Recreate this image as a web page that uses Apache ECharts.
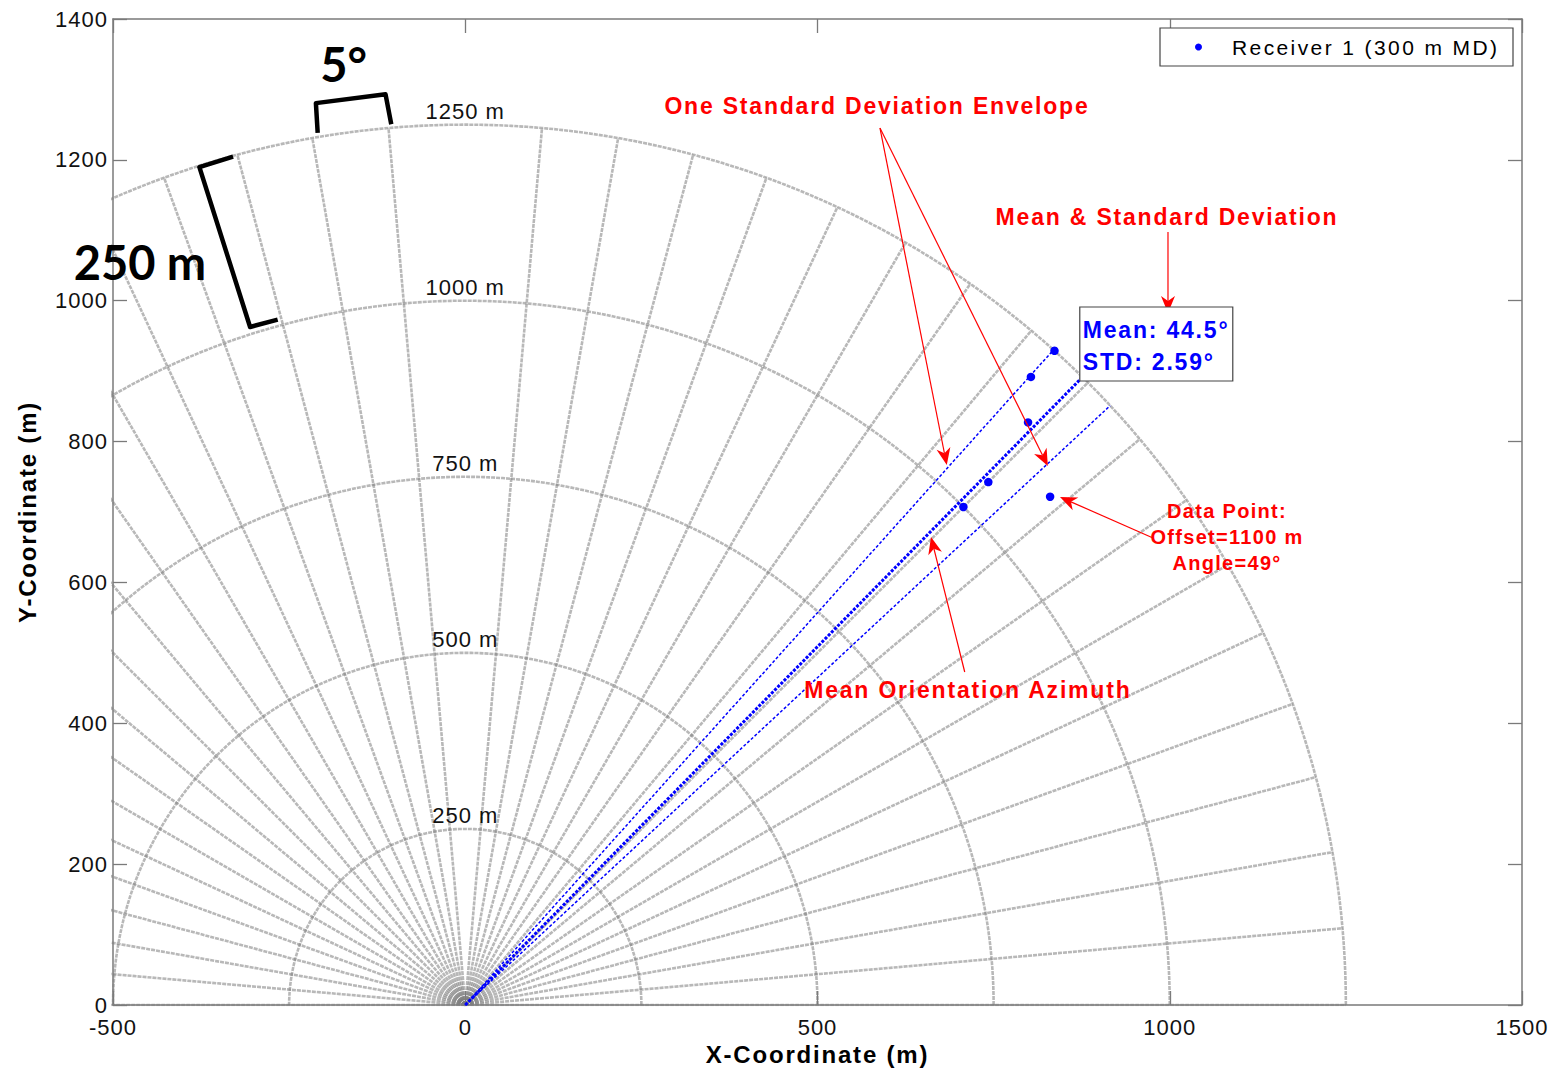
<!DOCTYPE html>
<html>
<head>
<meta charset="utf-8">
<script src="https://cdn.jsdelivr.net/npm/echarts@6/dist/echarts.min.js"></script>
<style>
  html, body { margin: 0; padding: 0; background: #fff; }
  #chart { width: 1563px; height: 1071px; }
  /* per-class tracking for the Helvetica-style labels */
  #chart text[style*="tk1"] { letter-spacing: 1px; }
  #chart text[style*="lg2"] { letter-spacing: 2.4px; }
  #chart text[style*="bd3"] { letter-spacing: 1.8px; }
  #chart text[style*="sb4"] { letter-spacing: 1.3px; }
</style>
</head>
<body>
<div id="chart"></div>
<script>
// Receiver 1 picks: source-receiver offset (m) and azimuth (deg, clockwise from north)
const receiverName = 'Receiver 1 (300 m MD)';
const offsets = [1250, 1200, 1150, 1050, 1000, 1100];
const azimuths = [42, 42, 44, 45, 45, 49];

// axes and polar grid
const xTicks = [-500, 0, 500, 1000, 1500];
const yTicks = [0, 200, 400, 600, 800, 1000, 1200, 1400];
const ringRadii = [250, 500, 750, 1000, 1250];
const ringLabels = ['250 m', '500 m', '750 m', '1000 m', '1250 m'];
const spokeStepDeg = 5;

const F_TICK = "'Liberation Sans', tk1";
const F_LEG = "'Liberation Sans', lg2";
const F_BOLD = "'Liberation Sans', bd3";
const F_SB = "'Liberation Sans', sb4";
const RED = '#ff0000';
const BLUE = '#0000ff';

// azimuth statistics
const n = azimuths.length;
const meanAz = azimuths.reduce((a, b) => a + b, 0) / n;
const stdAz = Math.sqrt(azimuths.reduce((s, a) => s + (a - meanAz) * (a - meanAz), 0) / (n - 1));
const outerR = ringRadii[ringRadii.length - 1];

function toXY(r, az) {
  const t = az * Math.PI / 180;
  return [r * Math.sin(t), r * Math.cos(t)];
}

const series = [];
const gridStyle = { color: 'rgba(125,125,125,0.55)', width: 2.6, type: [4, 1] };

// range rings
ringRadii.forEach(r => {
  const pts = [];
  for (let d = 0; d <= 180; d += 1) {
    const t = d * Math.PI / 180;
    pts.push([r * Math.cos(t), r * Math.sin(t)]);
  }
  series.push({ type: 'line', data: pts, symbol: 'none', silent: true, z: 1,
    lineStyle: gridStyle, animation: false });
});
// spokes
for (let d = 0; d <= 180; d += spokeStepDeg) {
  if (d === 90) continue;
  const t = d * Math.PI / 180;
  series.push({ type: 'line', data: [[0, 0], [outerR * Math.cos(t), outerR * Math.sin(t)]],
    symbol: 'none', silent: true, z: 1, lineStyle: gridStyle, animation: false });
}
// mean azimuth and one-sigma envelope
[[meanAz - stdAz, 1.5, [3, 2]], [meanAz, 3, [3, 1.5]], [meanAz + stdAz, 1.5, [3, 2]]].forEach(([az, w, dash]) => {
  series.push({ type: 'line', data: [[0, 0], toXY(outerR, az)], symbol: 'none', silent: true, z: 3,
    lineStyle: { color: BLUE, width: w, type: dash }, animation: false });
});
// picks
series.push({
  name: receiverName, type: 'scatter', z: 5,
  data: offsets.map((r, i) => toXY(r, azimuths[i])),
  symbol: 'circle', symbolSize: 8.5, itemStyle: { color: BLUE, opacity: 1 }
});

const axisLine = { show: true, onZero: false, lineStyle: { color: '#7a7a7a', width: 1.5 } };
const axisTick = { show: true, inside: true, length: 14, lineStyle: { color: '#7a7a7a', width: 1.3 } };
const plain = v => String(v);

const option = {
  animation: false,
  backgroundColor: '#fff',
  grid: { left: 113, right: 41, top: 19, bottom: 66, containLabel: false, outerBoundsMode: 'none' },
  legend: {
    data: [receiverName], left: 1160, top: 28, orient: 'horizontal',
    padding: [8, 10, 8, 35], backgroundColor: '#fff', borderColor: '#444', borderWidth: 1.2, borderRadius: 0,
    icon: 'circle', itemWidth: 7, itemHeight: 7, selectedMode: false,
    itemStyle: { opacity: 1 },
    textStyle: { fontFamily: F_LEG, fontSize: 21, lineHeight: 22, color: '#000', width: 271, padding: [0, 0, 0, 25] }
  },
  xAxis: [
    { type: 'value', min: xTicks[0], max: xTicks[xTicks.length - 1], interval: xTicks[1] - xTicks[0], position: 'bottom',
      name: 'X-Coordinate (m)', nameLocation: 'middle', nameGap: 30,
      nameTextStyle: { fontFamily: F_BOLD, fontWeight: 'bold', fontSize: 24, color: '#000' },
      axisLine, axisTick, splitLine: { show: false },
      axisLabel: { margin: 11, fontFamily: F_TICK, fontSize: 22, color: '#111', formatter: plain } },
    { type: 'value', min: xTicks[0], max: xTicks[xTicks.length - 1], interval: xTicks[1] - xTicks[0], position: 'top',
      axisLine, axisTick, splitLine: { show: false }, axisLabel: { show: false } }
  ],
  yAxis: [
    { type: 'value', min: yTicks[0], max: yTicks[yTicks.length - 1], interval: yTicks[1] - yTicks[0], position: 'left',
      name: 'Y-Coordinate (m)', nameLocation: 'middle', nameGap: 74,
      nameTextStyle: { fontFamily: F_BOLD, fontWeight: 'bold', fontSize: 24, color: '#000' },
      axisLine, axisTick, splitLine: { show: false },
      axisLabel: { margin: 5, fontFamily: F_TICK, fontSize: 22, color: '#111', formatter: plain } },
    { type: 'value', min: yTicks[0], max: yTicks[yTicks.length - 1], interval: yTicks[1] - yTicks[0], position: 'right',
      axisLine, axisTick, splitLine: { show: false }, axisLabel: { show: false } }
  ],
  series
};

const chart = echarts.init(document.getElementById('chart'), null, { renderer: 'svg' });
chart.setOption(option);

// annotation layer, anchored in data units
const P = pt => chart.convertToPixel({ xAxisIndex: 0, yAxisIndex: 0 }, pt);

function textEl(txt, at, font, color, extra) {
  const p = P(at);
  return { type: 'text', x: p[0], y: p[1], z: 60, silent: true,
    style: Object.assign({ text: txt, font, fill: color, align: 'center', verticalAlign: 'middle',
      textAlign: 'center', textVerticalAlign: 'middle' }, extra || {}) };
}
function arrowEls(from, to) {
  const a = P(from), b = P(to);
  const dx = b[0] - a[0], dy = b[1] - a[1], len = Math.hypot(dx, dy);
  const ux = dx / len, uy = dy / len, nx = -uy, ny = ux;
  const L = 17, W = 7, N = 5;
  const back = [b[0] - ux * L, b[1] - uy * L];
  const notch = [b[0] - ux * (L - N), b[1] - uy * (L - N)];
  return [
    { type: 'line', z: 50, silent: true, shape: { x1: a[0], y1: a[1], x2: notch[0], y2: notch[1] },
      style: { stroke: RED, lineWidth: 1.2 } },
    { type: 'polygon', z: 50, silent: true,
      shape: { points: [b, [back[0] + nx * W, back[1] + ny * W], notch, [back[0] - nx * W, back[1] - ny * W]] },
      style: { fill: RED } }
  ];
}
function polyEl(polarPts) {
  return { type: 'polyline', z: 40, silent: true,
    shape: { points: polarPts.map(([az, r]) => P(toXY(r, az))) },
    style: { stroke: '#000', lineWidth: 4.5, fill: null, lineJoin: 'round', lineCap: 'butt' } };
}

const els = [];
// ring labels above each ring at north
ringRadii.forEach((r, i) => {
  const p = P([0, r]);
  els.push({ type: 'text', x: p[0], y: p[1] - 13.5, z: 30, silent: true,
    style: { text: ringLabels[i], font: "22px " + F_TICK, fill: '#111', align: 'center', verticalAlign: 'middle',
      textAlign: 'center', textVerticalAlign: 'middle' } });
});

// scale brackets
els.push(polyEl([[-9.6, 1256], [-9.4, 1298], [-5, 1298], [-4.8, 1255]]));
els.push(polyEl([[-15.3, 1249], [-17.6, 1248], [-17.6, 1010], [-15.3, 1009]]));
els.push(textEl('5°', [-172.5, 1336], 'bold 47px Lato', '#000'));
els.push(textEl('250 m', [-461.8, 1055], 'bold 47px Lato', '#000'));

// envelope callout
const envStart = [588.7, 1245.2];
els.push(textEl('One Standard Deviation Envelope', [584.4, 1276.5], 'bold 23px ' + F_BOLD, RED));
els.push(...arrowEls(envStart, [683.5, 766.7]));
els.push(...arrowEls(envStart, [827.0, 765.3]));

// statistics callout
els.push(textEl('Mean & Standard Deviation', [996.1, 1118.9], 'bold 23px ' + F_BOLD, RED));
els.push(...arrowEls([997.5, 1097.6], [997.5, 982.6]));
const boxTL = P([872.3, 991.1]);
els.push({ type: 'rect', z: 55, silent: true, shape: { x: boxTL[0], y: boxTL[1], width: 153, height: 74 },
  style: { fill: '#fff', stroke: '#444', lineWidth: 1.2 } });
els.push({ type: 'text', x: boxTL[0] + 3, y: boxTL[1] + 7, z: 60, silent: true,
  style: { text: 'Mean: ' + meanAz.toFixed(1) + '°\nSTD: ' + stdAz.toFixed(2) + '°',
    font: 'bold 23px ' + F_BOLD, fill: BLUE, lineHeight: 32, align: 'left', verticalAlign: 'top',
    textAlign: 'left', textVerticalAlign: 'top' } });

// single pick callout
const k = 5;
els.push(textEl('Data Point:\nOffset=' + offsets[k] + ' m\nAngle=' + azimuths[k] + '°',
  [1081.3, 664.5], 'bold 20px ' + F_SB, RED, { lineHeight: 26 }));
els.push(...arrowEls([974.7, 663.7], [844.2, 721.3]));

// mean azimuth callout
els.push(textEl('Mean Orientation Azimuth', [713.4, 447.3], 'bold 23px ' + F_BOLD, RED));
els.push(...arrowEls([709.0, 472.8], [661.1, 664.5]));

chart.setOption({ graphic: els });
</script>
</body>
</html>
